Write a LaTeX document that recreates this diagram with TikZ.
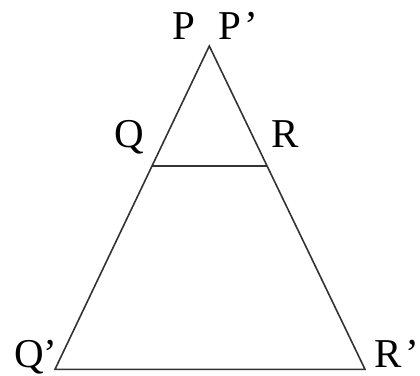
\documentclass[tikz,border=0pt]{standalone}
\usepackage{fontspec}
\setmainfont{Liberation Serif}
\usetikzlibrary{calc}
\begin{document}
\begin{tikzpicture}[x=1pt,y=-1pt,
  lbl/.style={anchor=base west,inner sep=0pt,font=\fontsize{41}{41}\selectfont},
  edge/.style={line width=1.6pt,draw=black!80}]
\useasboundingbox (0,0) rectangle (420,375);
\coordinate (A) at (209.3,46);
\coordinate (B) at (55,369.3);
\coordinate (C) at (365,369.3);
\coordinate (Q) at ($(A)!0.3715!(B)$);
\coordinate (R) at ($(A)!0.3715!(C)$);
\draw[edge,line join=miter] (A) -- (B) -- (C) -- cycle;
\draw[edge] (Q) -- (R);
\node[lbl] (lP) at (172,39) {P};
\node[lbl] (lPp) at (218,39) {P\kern0.08em’};
\node[lbl] (lQ) at (114,147) {Q};
\node[lbl] (lR) at (271,147) {R};
\node[lbl] (lQp) at (14,367) {Q’};
\node[lbl] (lRp) at (374,367) {R\kern0.1em’};
\end{tikzpicture}
\end{document}
